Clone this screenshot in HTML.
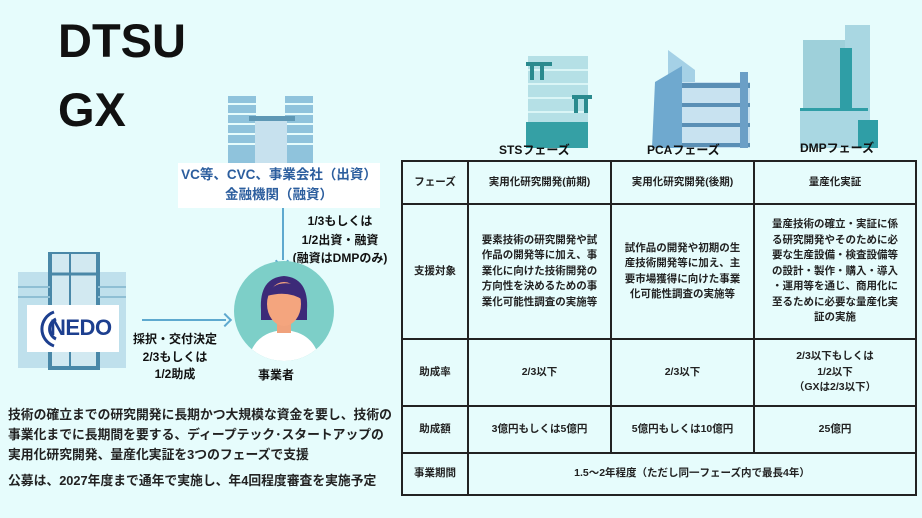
<!DOCTYPE html>
<html><head><meta charset="utf-8"><style>
body{margin:0;width:922px;height:518px;background:#e6fcfc;position:relative;overflow:hidden;font-family:"Liberation Sans","Noto Sans CJK JP",sans-serif;color:#111}
.a{position:absolute}
.t{position:absolute;white-space:nowrap}
table{position:absolute;left:401px;top:160px;border-collapse:collapse;font-size:10.5px;font-weight:bold;color:#222}
td{border:2px solid #222;text-align:center;padding:0;line-height:15.5px}
</style></head><body>
<div class="t" style="left:58px;top:12px;font-size:47px;font-weight:bold;line-height:58px">DTSU</div>
<div class="t" style="left:58px;top:81px;font-size:47px;font-weight:bold;line-height:58px">GX</div>

<!-- VC building -->
<svg class="a" style="left:225px;top:92px" width="90" height="72">
<rect x="3" y="4" width="28" height="68" fill="#8fc3dc"/><rect x="60" y="4" width="28" height="68" fill="#8fc3dc"/>
<g stroke="#e6fcfc" stroke-width="2"><line x1="3" y1="12" x2="31" y2="12"/><line x1="3" y1="22" x2="31" y2="22"/><line x1="3" y1="32" x2="31" y2="32"/><line x1="3" y1="42" x2="31" y2="42"/><line x1="3" y1="52" x2="31" y2="52"/><line x1="60" y1="12" x2="88" y2="12"/><line x1="60" y1="22" x2="88" y2="22"/><line x1="60" y1="32" x2="88" y2="32"/><line x1="60" y1="42" x2="88" y2="42"/><line x1="60" y1="52" x2="88" y2="52"/></g>
<rect x="30" y="28" width="32" height="44" fill="#c7e1ee"/><rect x="24" y="24" width="46" height="5" fill="#5e98b5"/>
</svg>
<div class="a" style="left:178px;top:163px;width:202px;height:45px;background:#fff"></div>
<div class="t" style="left:178px;top:165px;width:202px;text-align:center;color:#2c5e9e;font-size:13.5px;line-height:20px;font-weight:bold">VC等、CVC、事業会社（出資）<br>金融機関（融資）</div>
<div class="a" style="left:282px;top:208px;width:2px;height:52px;background:#5ea9cf"></div>
<div class="a" style="left:277px;top:256px;width:8px;height:8px;border-right:2px solid #5ea9cf;border-bottom:2px solid #5ea9cf;transform:rotate(45deg)"></div>
<div class="t" style="left:285px;top:212px;width:110px;text-align:center;font-size:12px;line-height:18.5px;font-weight:bold">1/3もしくは<br>1/2出資・融資<br>(融資はDMPのみ)</div>

<!-- person -->
<svg class="a" style="left:233px;top:260px" width="102" height="102">
<defs><clipPath id="c"><circle cx="51" cy="51" r="50"/></clipPath></defs>
<circle cx="51" cy="51" r="50" fill="#7dcfc8"/>
<g clip-path="url(#c)"><path d="M15 102 Q20 72 51 70 Q82 72 87 102Z" fill="#fff"/>
<rect x="44" y="55" width="14" height="18" fill="#f0a27c"/>
<path d="M28 50 Q26 18 51 16 Q76 18 74 50 L74 60 L28 60Z" fill="#3c2a78"/>
<ellipse cx="51" cy="44" rx="17" ry="22" fill="#f4a57e"/>
<path d="M34 36 Q40 20 60 24 Q70 28 70 40 Q55 30 34 36Z" fill="#3c2a78"/></g>
</svg>
<div class="t" style="left:258px;top:366px;font-size:12px;font-weight:bold">事業者</div>

<!-- NEDO building -->
<svg class="a" style="left:15px;top:252px" width="118" height="118">
<rect x="3" y="20" width="108" height="96" fill="#bfe0ec"/>
<rect x="35" y="0" width="48" height="116" fill="#d2e9f1" stroke="#4a88a8" stroke-width="4"/>
<line x1="35" y1="22" x2="83" y2="22" stroke="#4a88a8" stroke-width="3"/><line x1="55" y1="0" x2="55" y2="116" stroke="#4a88a8" stroke-width="2"/>
<g stroke="#8fbfd4" stroke-width="2"><line x1="3" y1="35" x2="35" y2="35"/><line x1="3" y1="45" x2="35" y2="45"/><line x1="83" y1="35" x2="111" y2="35"/><line x1="83" y1="45" x2="111" y2="45"/></g>
</svg>
<div class="a" style="left:27px;top:305px;width:92px;height:47px;background:#fff"></div>
<svg class="a" style="left:30px;top:308px" width="30" height="42"><path d="M24 4 A18 18 0 0 0 24 38" fill="none" stroke="#1d3f8f" stroke-width="3"/><path d="M26 11 A11 11 0 0 0 26 31" fill="none" stroke="#1d3f8f" stroke-width="3"/></svg>
<div class="t" style="left:50px;top:315px;font-size:22px;font-weight:bold;color:#1d3f8f;letter-spacing:-0.5px">NEDO</div>
<div class="a" style="left:142px;top:319px;width:84px;height:2px;background:#5ea9cf"></div>
<div class="a" style="left:220px;top:315px;width:8px;height:8px;border-right:2px solid #5ea9cf;border-top:2px solid #5ea9cf;transform:rotate(45deg)"></div>
<div class="t" style="left:125px;top:331px;width:100px;text-align:center;font-size:12px;line-height:17.5px;font-weight:bold">採択・交付決定<br>2/3もしくは<br>1/2助成</div>

<div class="t" style="left:8px;top:405px;font-size:12.8px;line-height:20px;font-weight:bold;color:#222">技術の確立までの研究開発に長期かつ大規模な資金を要し、技術の<br>事業化までに長期間を要する、ディープテック･スタートアップの<br>実用化研究開発、量産化実証を3つのフェーズで支援</div>
<div class="t" style="left:8px;top:471px;font-size:12.8px;line-height:20px;font-weight:bold;color:#222">公募は、2027年度まで通年で実施し、年4回程度審査を実施予定</div>

<!-- buildings top right -->
<svg class="a" style="left:500px;top:20px" width="420" height="128">
<rect x="28" y="36" width="60" height="102" fill="#b5e0e6"/>
<g stroke="#e6fcfc" stroke-width="1.5"><line x1="28" y1="50" x2="88" y2="50"/><line x1="28" y1="64" x2="88" y2="64"/><line x1="28" y1="78" x2="88" y2="78"/><line x1="28" y1="92" x2="88" y2="92"/></g>
<rect x="26" y="42" width="26" height="4" fill="#2a8a8e"/><rect x="30" y="46" width="4" height="14" fill="#2a8a8e"/><rect x="40" y="46" width="4" height="14" fill="#2a8a8e"/>
<rect x="72" y="75" width="20" height="4" fill="#2a8a8e"/><rect x="74" y="79" width="4" height="14" fill="#2a8a8e"/><rect x="84" y="79" width="4" height="14" fill="#2a8a8e"/>
<rect x="26" y="102" width="62" height="26" fill="#35a0a5"/>
<path d="M168 30 L195 50 L195 90 L168 90Z" fill="#a5d1e6"/>
<path d="M155 62 L182 46 L182 128 L152 128Z" fill="#6fa9cf"/>
<rect x="182" y="62" width="68" height="66" fill="#c8e2f0"/>
<g fill="#5a8fb5"><rect x="182" y="63" width="68" height="5"/><rect x="182" y="83" width="68" height="4"/><rect x="182" y="103" width="68" height="4"/><rect x="182" y="123" width="68" height="4"/></g>
<rect x="240" y="52" width="8" height="76" fill="#6b9fc6"/>
<rect x="303" y="20" width="45" height="108" fill="#9ed0da"/>
<rect x="345" y="5" width="25" height="118" fill="#a9d7e2"/>
<rect x="340" y="28" width="12" height="100" fill="#2f9ea6"/>
<rect x="300" y="88" width="68" height="40" fill="#a9d7e2"/>
<rect x="300" y="88" width="68" height="3" fill="#2f9ea6"/>
<rect x="358" y="100" width="20" height="28" fill="#2f9ea6"/>
</svg>
<div class="t" style="left:499px;top:141px;font-size:12px;font-weight:bold">STSフェーズ</div>
<div class="t" style="left:647px;top:141px;font-size:12px;font-weight:bold">PCAフェーズ</div>
<div class="t" style="left:800px;top:139px;font-size:12px;font-weight:bold">DMPフェーズ</div>

<table>
<tr style="height:43px"><td style="width:64px">フェーズ</td><td style="width:141px">実用化研究開発(前期)</td><td style="width:141px">実用化研究開発(後期)</td><td style="width:160px">量産化実証</td></tr>
<tr style="height:135px"><td>支援対象</td><td>要素技術の研究開発や試<br>作品の開発等に加え、事<br>業化に向けた技術開発の<br>方向性を決めるための事<br>業化可能性調査の実施等</td><td>試作品の開発や初期の生<br>産技術開発等に加え、主<br>要市場獲得に向けた事業<br>化可能性調査の実施等</td><td>量産技術の確立・実証に係<br>る研究開発やそのために必<br>要な生産設備・検査設備等<br>の設計・製作・購入・導入<br>・運用等を通じ、商用化に<br>至るために必要な量産化実<br>証の実施</td></tr>
<tr style="height:67px"><td>助成率</td><td>2/3以下</td><td>2/3以下</td><td>2/3以下もしくは<br>1/2以下<br>（GXは2/3以下）</td></tr>
<tr style="height:47px"><td>助成額</td><td>3億円もしくは5億円</td><td>5億円もしくは10億円</td><td>25億円</td></tr>
<tr style="height:42px"><td>事業期間</td><td colspan="3">1.5～2年程度（ただし同一フェーズ内で最長4年）</td></tr>
</table>
</body></html>
